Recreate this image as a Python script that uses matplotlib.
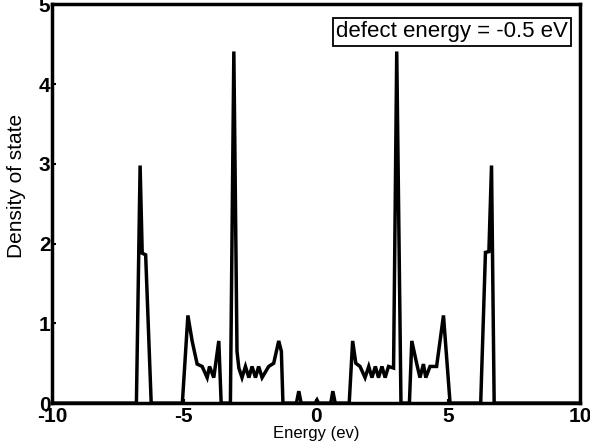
import matplotlib.pyplot as plt

plt.rcParams['font.family'] = ['Liberation Sans', 'DejaVu Sans']
plt.rcParams['axes.unicode_minus'] = False

# Energy (eV) and density of states
energy = [-10, -6.80, -6.66, -6.58, -6.45, -6.24,
          -5.06, -4.85, -4.69, -4.50, -4.31, -4.12, -4.03, -3.87, -3.68, -3.59,
          -3.24, -3.11, -2.99, -2.92, -2.80, -2.67, -2.54, -2.42, -2.29, -2.17,
          -2.04, -1.79, -1.60, -1.41, -1.31, -1.25,
          -0.74, -0.65, -0.56,
          -0.03, 0.04, 0.10,
          0.56, 0.64, 0.73,
          1.26, 1.39, 1.51, 1.67, 1.86, 2.00, 2.12, 2.25, 2.37, 2.50, 2.62,
          2.75, 2.94, 3.06, 3.22,
          3.54, 3.63, 3.82, 3.94, 4.07, 4.16, 4.32, 4.57, 4.83, 5.08,
          6.24, 6.42, 6.55, 6.65, 6.75, 10]
dos = [0, 0, 2.98, 1.88, 1.86, 0,
       0, 1.10, 0.78, 0.49, 0.46, 0.32, 0.46, 0.32, 0.78, 0,
       0, 4.41, 0.65, 0.44, 0.32, 0.46, 0.32, 0.46, 0.32, 0.46,
       0.32, 0.46, 0.50, 0.78, 0.65, 0,
       0, 0.15, 0,
       0, 0.04, 0,
       0, 0.15, 0,
       0, 0.78, 0.50, 0.46, 0.32, 0.46, 0.32, 0.46, 0.32, 0.46, 0.32,
       0.46, 0.44, 4.41, 0,
       0, 0.78, 0.49, 0.32, 0.49, 0.32, 0.46, 0.46, 1.10, 0,
       0, 1.89, 1.90, 2.98, 0, 0]

xticks = [-10, -5, 0, 5, 10]
yticks = [0, 1, 2, 3, 4, 5]

fig = plt.figure(figsize=(5.9, 4.43), dpi=100)
ax = fig.add_axes([0.088, 0.09, 0.895, 0.90])

ax.plot(energy, dos, color='black', linewidth=2.5, solid_joinstyle='miter')

ax.set_xlim(-10, 10)
ax.set_ylim(0, 5)
ax.set_xticks(xticks)
ax.set_yticks(yticks)
ax.tick_params(direction='in', length=3, width=1.5)
ax.tick_params(axis='x', pad=3)
ax.tick_params(axis='y', pad=1)
for lbl in ax.get_xticklabels() + ax.get_yticklabels():
    lbl.set_fontsize(15)
    lbl.set_fontweight('bold')
for s in ax.spines.values():
    s.set_linewidth(2.5)

ax.set_xlabel('Energy (ev)', fontsize=12, labelpad=0)
ax.set_ylabel('Density of state', fontsize=15)
ax.yaxis.set_label_coords(-0.05, 0.545)

ax.text(0.977, 0.958, 'defect energy = -0.5 eV', transform=ax.transAxes,
        ha='right', va='top', fontsize=16,
        bbox=dict(boxstyle='square,pad=0.15', facecolor='white',
                  edgecolor='black', linewidth=1.3))

fig.savefig('out.png', dpi=100)
